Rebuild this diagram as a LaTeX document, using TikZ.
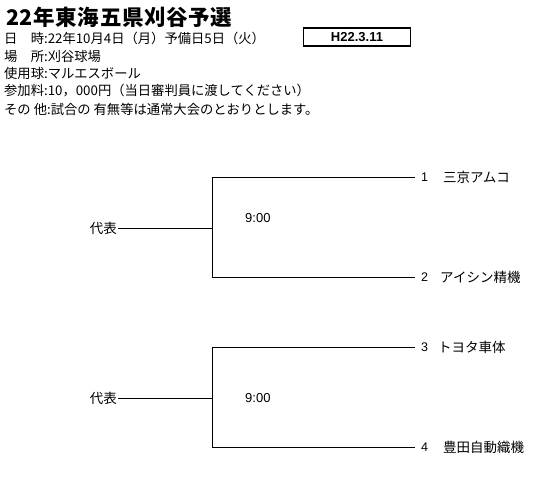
\documentclass[tikz,border=0pt]{standalone}
\usepackage{fontspec}
\setmainfont{Liberation Sans}
\newfontfamily\jp{Noto Sans CJK JP}
\begin{document}
\begin{tikzpicture}[x=1pt, y=-1pt,
    info/.style={anchor=west, inner sep=0pt, font=\jp\fontsize{13.3}{13}\selectfont},
    team/.style={anchor=west, inner sep=0pt, font=\jp\fontsize{13.5}{13}\selectfont},
    num/.style={anchor=west, inner sep=0pt, font=\fontsize{12.5}{12}\selectfont},
    time/.style={anchor=west, inner sep=0pt, font=\fontsize{13}{12}\selectfont}]
    \useasboundingbox[fill=white] (0,0) rectangle (560,488);
    % 見出し
    \node[anchor=west, inner sep=0pt, font=\jp\bfseries\fontsize{21.5}{21}\selectfont\addfontfeature{LetterSpace=3}] (title) at (6,17) {22年東海五県刈谷予選};
    \node[draw, line width=1.4pt, minimum width=107pt, minimum height=18pt, inner sep=0pt, font=\bfseries\fontsize{13}{12}\selectfont] (date) at (357,37) {H22.3.11};
    \node[info] (when) at (4,38) {日　時:22年10月4日（月）予備日5日（火）};
    \node[info] (where) at (4,56) {場　所:刈谷球場};
    \node[info] (ball) at (4,73) {使用球:マルエスボール};
    \node[info] (fee) at (4,91) {参加料:10，000円（当日審判員に渡してください）};
    \node[info] (other) at (4,109) {その 他:試合の 有無等は通常大会のとおりとします。};

    % 1回戦 上
    \node[anchor=east, inner sep=1pt, font=\jp\fontsize{13.5}{13}\selectfont] (rep1) at (118,228) {代表};
    \coordinate (m1) at (212,228);
    \coordinate (c1) at (212,177);
    \coordinate (c2) at (212,277);
    \coordinate (e1) at (415,177);
    \coordinate (e2) at (415,277);
    \node[num] (n1) at (421,177) {1};
    \node[team] (t1) at (443,177) {三京アムコ};
    \node[num] (n2) at (421,277) {2};
    \node[team] (t2) at (440,277) {アイシン精機};
    \node[time] (k1) at (245,218) {9:00};
    \draw (rep1.east) -- (m1);
    \draw (e1) -- (c1) -- (c2) -- (e2);

    % 1回戦 下
    \node[anchor=east, inner sep=1pt, font=\jp\fontsize{13.5}{13}\selectfont] (rep2) at (118,398) {代表};
    \coordinate (m2) at (212,398);
    \coordinate (c3) at (212,347);
    \coordinate (c4) at (212,447);
    \coordinate (e3) at (415,347);
    \coordinate (e4) at (415,447);
    \node[num] (n3) at (421,347) {3};
    \node[team] (t3) at (438,347) {トヨタ車体};
    \node[num] (n4) at (421,447) {4};
    \node[team] (t4) at (443,447) {豊田自動織機};
    \node[time] (k2) at (245,398) {9:00};
    \draw (rep2.east) -- (m2);
    \draw (e3) -- (c3) -- (c4) -- (e4);
\end{tikzpicture}
\end{document}
